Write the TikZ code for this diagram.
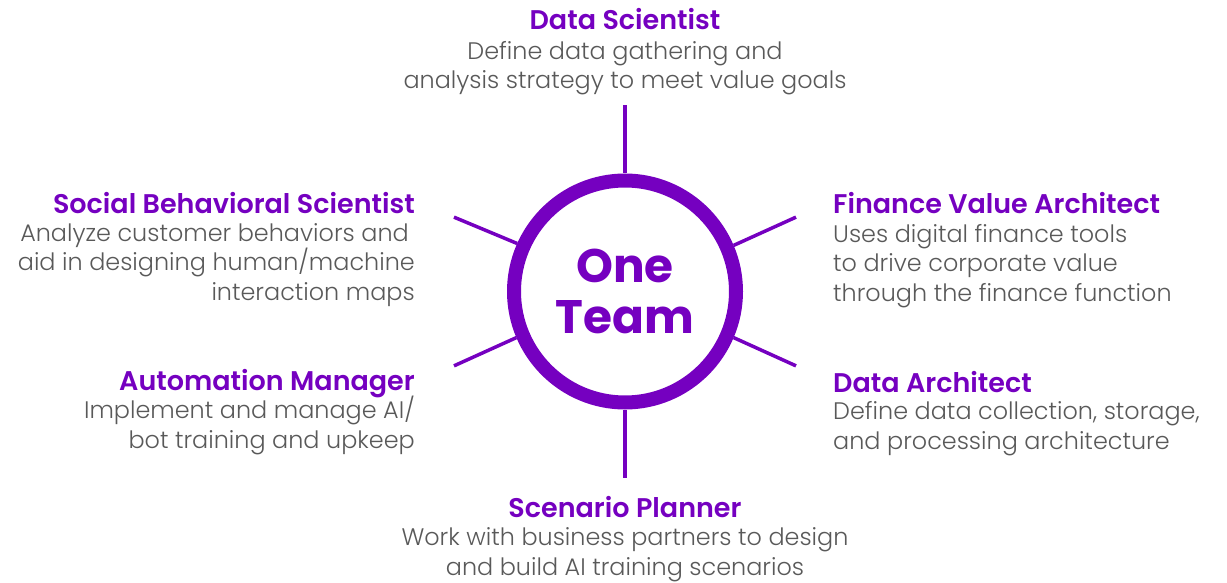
\documentclass[tikz,border=0pt]{standalone}
\usepackage{fontspec}
\setmainfont{Poppins}
\newfontfamily\bodyfont{Poppins Light}
\newfontfamily\rolefont{Poppins SemiBold}
\newfontfamily\hubfont{Poppins Bold}
\usetikzlibrary{calc}
\definecolor{brand}{HTML}{7500C0}
\definecolor{ink}{HTML}{595959}
\begin{document}
\begin{tikzpicture}[x=1pt,y=-1pt,
  role/.style={font=\rolefont\fontsize{27}{30}\selectfont, text=brand, inner sep=0},
  desc/.style={font=\bodyfont\fontsize{23.9}{29.5}\selectfont, text=ink, inner sep=0},
  ray/.style={draw=brand, line width=3.5pt}]
\useasboundingbox (0,0) rectangle (1227,583);

% central ring and its label (base anchor = baseline of the last line)
\node[circle, draw=brand, line width=14pt, minimum size=222pt, inner sep=0] (hub) at (625,291.5) {};
\node[font=\hubfont\fontsize{47}{51}\selectfont, text=brand, align=center, anchor=base, inner sep=0] (hubtext) at (625,333) {One\\Team};

% spokes
\foreach \a/\n in {90/n,270/s,23.5/ne,-23.5/se,156.5/nw,203.5/sw} {
  \coordinate (tip-\n) at ($(hub.center)+(\a:186.5pt)$);
  \draw[ray] (hub.\a) -- (tip-\n);
}

% top and bottom roles
\node[role, anchor=base] (ds) at (625,30) {Data Scientist};
\node[desc, anchor=base, align=center] (dsd) at (625,89) {Define data gathering and\\analysis strategy to meet value goals};
\node[role, anchor=base] (sp) at (625,517) {Scenario Planner};
\node[desc, anchor=base, align=center] (spd) at (625,575) {Work with business partners to design\\and build AI training scenarios};

% left roles
\node[role, anchor=base east] (sbs) at (415,213) {Social Behavioral Scientist};
\node[desc, anchor=base east, align=right] (sbsd) at (415,300) {Analyze customer behaviors and\kern6pt\\aid in designing human/machine\\interaction maps};
\node[role, anchor=base east] (am) at (415,390) {Automation Manager};
\node[desc, anchor=base east, align=right] (amd) at (415,448) {Implement and manage AI/\\bot training and upkeep};

% right roles
\node[role, anchor=base west] (fva) at (833,214) {Finance Value Architect};
\node[desc, anchor=base west, align=left] (fvad) at (833,301) {Uses digital finance tools\\to drive corporate value\\through the finance function};
\node[role, anchor=base west] (da) at (833,392) {Data Architect};
\node[desc, anchor=base west, align=left] (dad) at (833,449) {Define data collection, storage,\\and processing architecture};
\end{tikzpicture}
\end{document}
